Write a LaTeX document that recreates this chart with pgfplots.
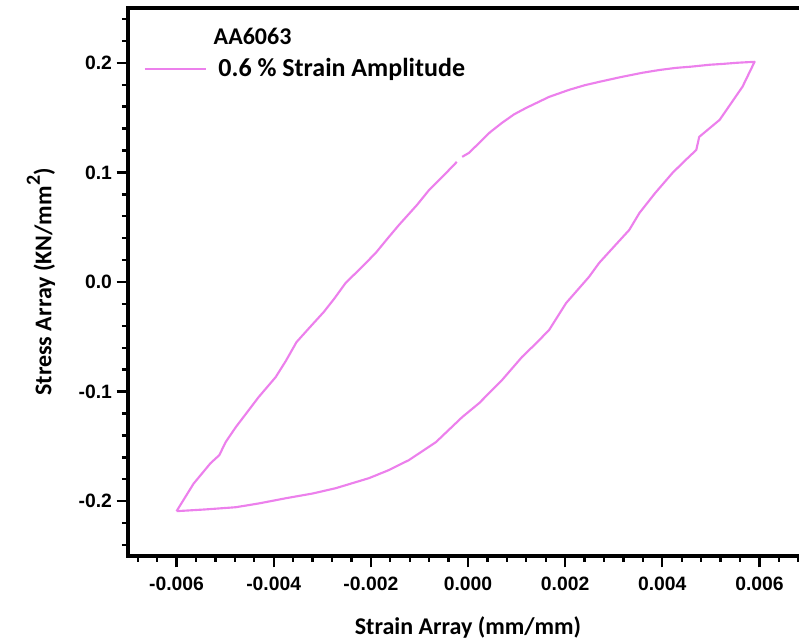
\documentclass[border=0pt]{standalone}
\usepackage{pgfplots}
\pgfplotsset{compat=1.18}
\usepackage{fontspec}
\setmainfont{Carlito}
\newfontfamily\tickfont{Liberation Sans}
\definecolor{loopc}{RGB}{236,128,236}
\begin{document}
\begin{tikzpicture}
\begin{axis}[
  scale only axis,
  width=510pt, height=411pt,
  xmin=-0.007, xmax=0.007,
  ymin=-0.25, ymax=0.25,
  axis line style={line width=2.3pt},
  tick align=outside,
  xtick pos=bottom, ytick pos=left,
  major tick length=8.5pt, minor tick length=4.5pt,
  every tick/.style={black, line width=1.8pt},
  xtick={-0.006,-0.004,-0.002,0,0.002,0.004,0.006},
  minor xtick={-0.0068,-0.0064,-0.0056,-0.0052,-0.0048,-0.0044,-0.0036,-0.0032,-0.0028,-0.0024,-0.0016,-0.0012,-0.0008,-0.0004,0.0004,0.0008,0.0012,0.0016,0.0024,0.0028,0.0032,0.0036,0.0044,0.0048,0.0052,0.0056,0.0064,0.0068},
  ytick={-0.2,-0.1,0,0.1,0.2},
  minor ytick={-0.24,-0.22,-0.18,-0.16,-0.14,-0.12,-0.08,-0.06,-0.04,-0.02,0.02,0.04,0.06,0.08,0.12,0.14,0.16,0.18,0.22,0.24},
  scaled x ticks=false, scaled y ticks=false,
  /pgf/number format/assume math mode=true,
  xticklabel style={/pgf/number format/.cd, fixed, fixed zerofill, precision=3, /tikz/yshift=-4pt},
  yticklabel style={/pgf/number format/.cd, fixed, fixed zerofill, precision=1},
  ticklabel style={font=\tickfont\bfseries\fontsize{14.5}{16}\selectfont},
  xlabel={Strain Array (mm/mm)},
  ylabel={Stress Array (KN/mm\raisebox{1.0ex}{\fontsize{15}{15}\selectfont 2})},
  label style={font=\bfseries\fontsize{18}{22}\selectfont},
  xlabel style={at={(axis description cs:0.5,-0.1296)}, anchor=center},
  ylabel style={at={(axis description cs:-0.128,0.5)}, anchor=center},
  legend style={draw=none, fill=none, at={(axis description cs:0,1)}, anchor=north west,
    xshift=8.5pt, yshift=-11pt, row sep=5pt, column sep=6.5pt,
    font=\bfseries\fontsize{19.5}{22}\selectfont},
  legend cell align=left,
  legend image code/.code={\draw[#1] (0pt,0pt) -- (46pt,0pt);},
]
\addlegendimage{empty legend}
\addlegendentry{\hspace{-3.5pt}\fontsize{18}{20}\selectfont AA6063}
\addplot[loopc, line width=1.6pt, line join=round] coordinates {
(-0.00600,-0.2091) (-0.00565,-0.1840) (-0.00530,-0.1653) (-0.00512,-0.1580) (-0.00499,-0.1461)
(-0.00478,-0.1324) (-0.00455,-0.1190) (-0.00431,-0.1050) (-0.00396,-0.0868)
(-0.00375,-0.0720) (-0.00353,-0.0548) (-0.00325,-0.0410) (-0.00297,-0.0274)
(-0.00275,-0.0150) (-0.00252,-0.0009) (-0.00220,0.0130) (-0.00190,0.0265)
(-0.00165,0.0400) (-0.00142,0.0521) (-0.00105,0.0703) (-0.00080,0.0840)
(-0.00045,0.0995) (-0.00023,0.1096)
};
\addlegendentry{0.6 \% Strain Amplitude}
\addplot[loopc, line width=1.6pt, line join=round, forget plot] coordinates {
(-0.00012,0.1142) (0.00002,0.1178) (0.00023,0.1269) (0.00045,0.1365) (0.00070,0.1452)
(0.00095,0.1530) (0.00120,0.1589) (0.00167,0.1689) (0.00208,0.1753)
(0.00240,0.1795) (0.00270,0.1826) (0.00315,0.1870) (0.00359,0.1909)
(0.00395,0.1935) (0.00429,0.1954) (0.00460,0.1965) (0.00497,0.1982)
(0.00525,0.1990) (0.00553,0.2000) (0.00590,0.2009)
(0.00569,0.1817) (0.00565,0.1781) (0.00540,0.1620) (0.00518,0.1479)
(0.00476,0.1324) (0.00470,0.1205) (0.00445,0.1100) (0.00421,0.0995)
(0.00385,0.0810) (0.00353,0.0630) (0.00332,0.0475) (0.00300,0.0320)
(0.00270,0.0174) (0.00249,0.0046) (0.00202,-0.0192) (0.00167,-0.0438)
(0.00140,-0.0560) (0.00111,-0.0685) (0.00070,-0.0895) (0.00023,-0.1105)
(-0.00012,-0.1233) (-0.00066,-0.1461) (-0.00122,-0.1626) (-0.00165,-0.1720)
(-0.00204,-0.1790) (-0.00272,-0.1881) (-0.00320,-0.1930) (-0.00375,-0.1973)
(-0.00430,-0.2020) (-0.00478,-0.2055) (-0.00540,-0.2075) (-0.00600,-0.2091)
};
\coordinate (sw) at (rel axis cs:0,0);
\coordinate (nw) at (rel axis cs:0,1);
\end{axis}
\pgfresetboundingbox
\path[use as bounding box] ([xshift=-96pt,yshift=-63pt]sw) rectangle ([xshift=503.25pt,yshift=6pt]nw);
\end{tikzpicture}
\end{document}
